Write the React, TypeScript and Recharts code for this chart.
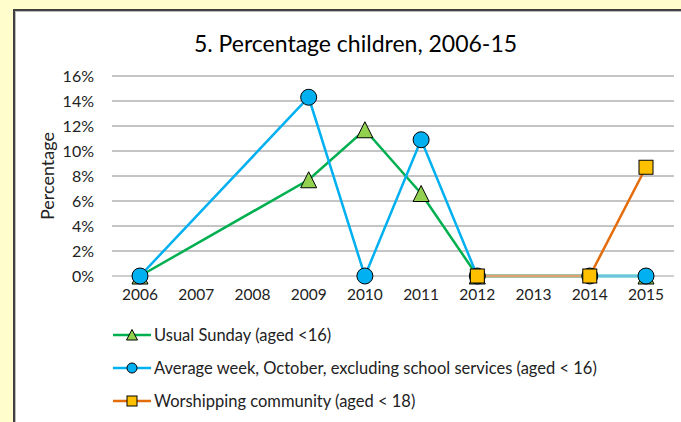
import React from 'react';
import { LineChart, Line, XAxis, YAxis, CartesianGrid, Legend } from 'recharts';

const years = ['2006', '2007', '2008', '2009', '2010', '2011', '2012', '2013', '2014', '2015'];
const usualSunday: (number | null)[] = [0, null, null, 7.7, 11.7, 6.6, 0, null, null, 0];
const averageWeek: (number | null)[] = [0, null, null, 14.3, 0, 10.9, 0, null, 0, 0];
const worshipping: (number | null)[] = [null, null, null, null, null, null, 0, null, 0, 8.7];
const yTicks = [0, 2, 4, 6, 8, 10, 12, 14, 16];

const data = years.map((y, i) => ({
  year: y,
  sunday: usualSunday[i],
  week: averageWeek[i],
  community: worshipping[i],
}));

const FONT = 'Lato, "Open Sans", sans-serif';
const GREEN = '#00B050';
const BLUE = '#00B0F0';
const ORANGE = '#E46C0A';

const Triangle = (props: any) => {
  const { cx, cy } = props;
  if (cx == null || cy == null || props.value == null) return null;
  const h = 16;
  const w = 16;
  const pts = `${cx},${cy - h / 2} ${cx + w / 2},${cy + h / 2} ${cx - w / 2},${cy + h / 2}`;
  return <polygon key={`t${cx}`} points={pts} fill="#92D050" stroke="#000" strokeWidth={1} />;
};
const Circle = (props: any) => {
  const { cx, cy } = props;
  if (cx == null || cy == null || props.value == null) return null;
  return <circle key={`c${cx}`} cx={cx} cy={cy} r={8} fill={BLUE} stroke="#000" strokeWidth={1} />;
};
const Square = (props: any) => {
  const { cx, cy } = props;
  const s = 14;
  if (cx == null || cy == null || props.value == null) return null;
  return <rect key={`s${cx}`} x={cx - s / 2} y={cy - s / 2} width={s} height={s} fill="#FFC000" stroke="#000" strokeWidth={1} />;
};

const legendItems = [
  { name: 'Usual Sunday (aged <16)', color: GREEN, marker: 'tri' },
  { name: 'Average week, October, excluding school services (aged < 16)', color: BLUE, marker: 'circ' },
  { name: 'Worshipping community (aged < 18)', color: ORANGE, marker: 'sq' },
];

const LegendContent = () => (
  <div style={{ fontFamily: FONT, fontSize: 16.5, color: '#222' }}>
    {legendItems.map((it) => (
      <div key={it.name} style={{ display: 'flex', alignItems: 'center', height: 33 }}>
        <svg width={40} height={16} style={{ marginRight: 1, flex: 'none' }}>
          <line x1={0} y1={8} x2={38} y2={8} stroke={it.color} strokeWidth={2.5} />
          {it.marker === 'tri' && <polygon points="19,2.5 24.5,13 13.5,13" fill="#92D050" stroke="#000" strokeWidth={1} />}
          {it.marker === 'circ' && <circle cx={19} cy={8} r={5} fill={BLUE} stroke="#000" strokeWidth={1} />}
          {it.marker === 'sq' && <rect x={14} y={3} width={10} height={10} fill="#FFC000" stroke="#000" strokeWidth={1} />}
        </svg>
        <span style={{ whiteSpace: 'nowrap' }}>{it.name}</span>
      </div>
    ))}
  </div>
);

export default function App() {
  return (
    <div style={{ position: 'absolute', left: 0, top: 0, width: 681, height: 422, background: '#FFFDCC', overflow: 'hidden' }}>
      <div
        style={{
          position: 'absolute',
          left: 13,
          top: 9,
          width: 720,
          height: 460,
          background: '#fff',
          borderTop: '2px solid #404040',
          borderLeft: '2px solid #404040',
          boxShadow: 'inset 1px 1px 0 #bdbdbd',
        }}
      />
      <div
        style={{
          position: 'absolute',
          left: 15,
          width: 681,
          top: 28,
          textAlign: 'center',
          fontFamily: FONT,
          fontSize: 23,
          color: '#000',
          lineHeight: '30px',
        }}
      >
        5. Percentage children, 2006-15
      </div>
      <div style={{ position: 'absolute', left: 0, top: 0 }}>
        <LineChart width={681} height={422} data={data} margin={{ top: 76, right: 7, left: 62, bottom: 116 }}>
          <CartesianGrid horizontal vertical={false} stroke="#8a8a8a" />
          <XAxis
            dataKey="year"
            height={30}
            padding={{ left: 28, right: 28 }}
            axisLine={{ stroke: '#D9D9D9' }}
            tickLine={false}
            tick={{ fontFamily: FONT, fontSize: 15.5, fill: '#222' }}
            tickMargin={7}
            interval={0}
          />
          <YAxis
            width={50}
            domain={[0, 16]}
            ticks={yTicks}
            axisLine={false}
            tickLine={false}
            tickFormatter={(v: number) => `${v}%`}
            tick={{ fontFamily: FONT, fontSize: 16, fill: '#222' }}
            tickMargin={12}
            interval={0}
            label={{
              content: () => (
                <text
                  x={47}
                  y={176}
                  transform="rotate(-90 47 176)"
                  textAnchor="middle"
                  dominantBaseline="central"
                  fontFamily={FONT}
                  fontSize={18}
                  fill="#222"
                >
                  Percentage
                </text>
              ),
            }}
          />
          <Legend
            layout="horizontal"
            verticalAlign="middle"
            align="center"
            wrapperStyle={{ top: 318, left: 113, width: 560 }}
            content={() => <LegendContent />}
          />
          <Line
            type="linear"
            dataKey="sunday"
            name="Usual Sunday (aged <16)"
            stroke={GREEN}
            strokeWidth={2.5}
            connectNulls
            isAnimationActive={false}
            dot={(p: any) => <Triangle {...p} />}
            activeDot={false}
          />
          <Line
            type="linear"
            dataKey="week"
            name="Average week, October, excluding school services (aged < 16)"
            stroke={BLUE}
            strokeWidth={2.5}
            connectNulls
            isAnimationActive={false}
            dot={(p: any) => <Circle {...p} />}
            activeDot={false}
          />
          <Line
            type="linear"
            dataKey="community"
            name="Worshipping community (aged < 18)"
            stroke={ORANGE}
            strokeWidth={2.5}
            connectNulls
            isAnimationActive={false}
            dot={(p: any) => <Square {...p} />}
            activeDot={false}
          />
        </LineChart>
      </div>
    </div>
  );
}
